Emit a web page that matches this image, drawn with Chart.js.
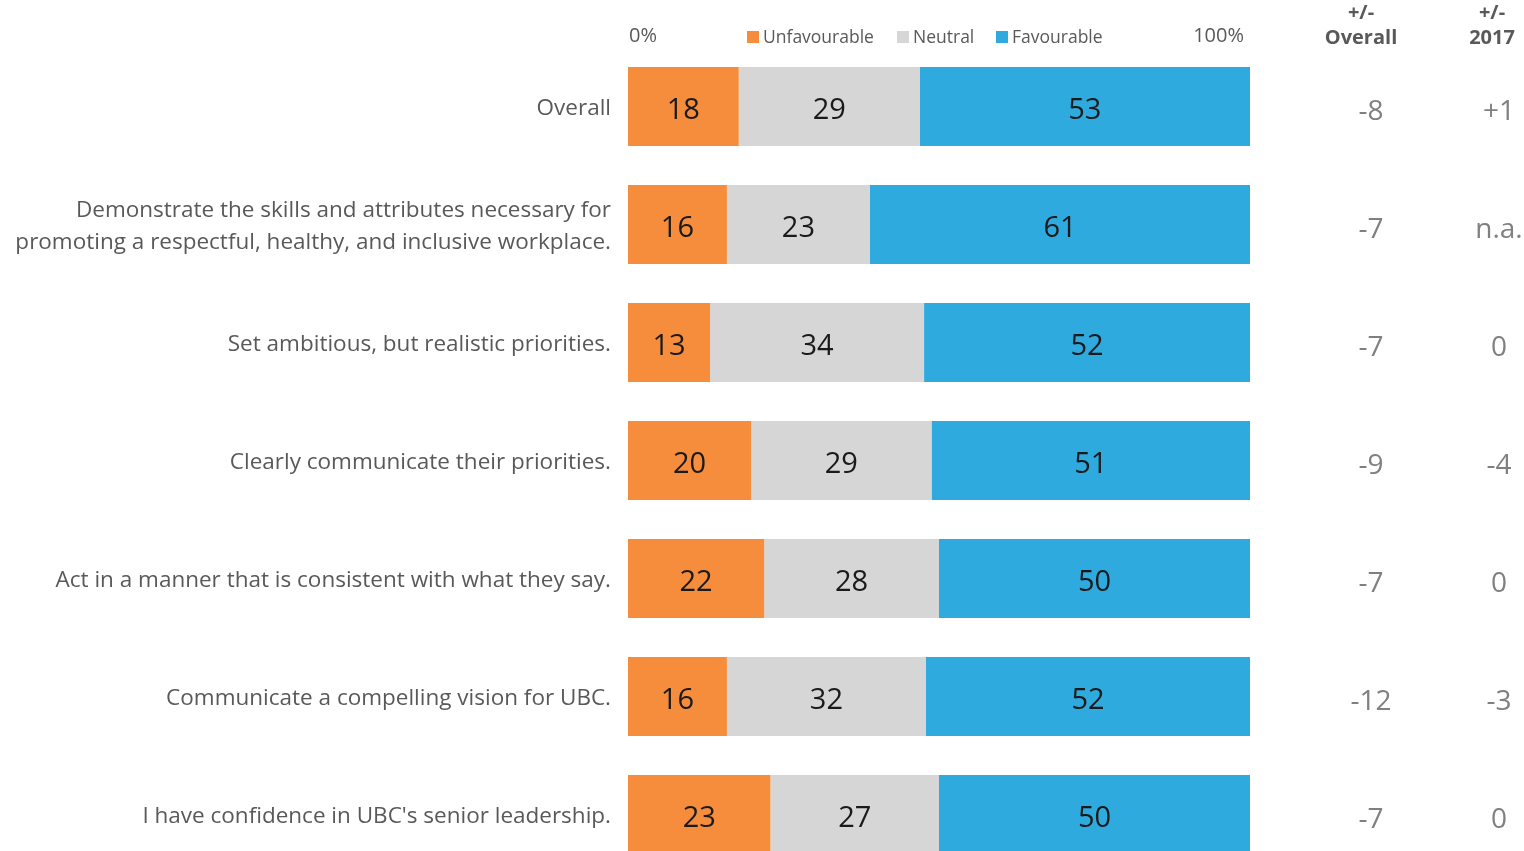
<!DOCTYPE html>
<html>
<head>
<meta charset="utf-8">
<script src="https://cdn.jsdelivr.net/npm/chart.js@4.4.1/dist/chart.umd.min.js"></script>
<style>
  html, body { margin: 0; padding: 0; background: #fff; overflow: hidden; width: 1524px; height: 851px; }
  #c { position: absolute; left: 0; top: 0; }
</style>
</head>
<body>
<canvas id="c" width="1524" height="874" style="width:1524px;height:874px"></canvas>
<script>
const categories = [
  "Overall",
  ["Demonstrate the skills and attributes necessary for", "promoting a respectful, healthy, and inclusive workplace."],
  "Set ambitious, but realistic priorities.",
  "Clearly communicate their priorities.",
  "Act in a manner that is consistent with what they say.",
  "Communicate a compelling vision for UBC.",
  "I have confidence in UBC's senior leadership."
];
const unfavourable = [17.8, 15.9, 13.2, 19.8, 21.9, 15.9, 22.9];
const neutral      = [29.1, 23.0, 34.4, 29.0, 28.1, 32.0, 27.1];
const favourable   = [53.1, 61.1, 52.4, 51.2, 50.0, 52.1, 50.0];
const diffOverall  = ["-8", "-7", "-7", "-9", "-7", "-12", "-7"];
const diff2017     = ["+1", "n.a.", "0", "-4", "0", "-3", "0"];
const axisLabels   = ["0%", "100%"];
const columnHeads  = [["+/-", "Overall"], ["+/-", "2017"]];

const FONT = "'Open Sans', 'Noto Sans', sans-serif";
const TEXT_GRAY = '#595959';

const overlay = {
  id: 'overlay',
  afterDatasetsDraw(chart) {
    const ctx = chart.ctx;
    const ys = chart.scales.y;
    const xs = chart.scales.x;
    ctx.save();
    // data labels
    ctx.fillStyle = '#1a1a1a';
    ctx.font = "29px " + FONT;
    ctx.textAlign = 'center';
    ctx.textBaseline = 'middle';
    chart.data.datasets.forEach((ds, di) => {
      const meta = chart.getDatasetMeta(di);
      meta.data.forEach((bar, i) => {
        const cx = (bar.x + bar.base) / 2;
        ctx.fillText(String(Math.round(ds.data[i])), cx, bar.y + 4);
      });
    });
    // right columns
    ctx.fillStyle = '#808080';
    ctx.font = "28px " + FONT;
    categories.forEach((c, i) => {
      const y = ys.getPixelForValue(i) + 6;
      ctx.fillText(diffOverall[i], 1371, y);
      ctx.fillText(diff2017[i], 1499, y);
    });
    // column heads
    ctx.fillStyle = TEXT_GRAY;
    ctx.font = "bold 20px " + FONT;
    ctx.fillText(columnHeads[0][0], 1361, 13);
    ctx.fillText(columnHeads[0][1], 1361, 38);
    ctx.fillText(columnHeads[1][0], 1492, 13);
    ctx.fillText(columnHeads[1][1], 1492, 38);
    // axis end labels
    ctx.font = "20px " + FONT;
    ctx.textAlign = 'left';
    ctx.fillText(axisLabels[0], xs.getPixelForValue(0) + 1, 36);
    ctx.textAlign = 'right';
    ctx.fillText(axisLabels[1], xs.getPixelForValue(100) - 6, 36);
    // legend
    const legX = [747, 897, 996];
    ctx.font = "17.5px " + FONT;
    ctx.textAlign = 'left';
    chart.data.datasets.forEach((ds, di) => {
      ctx.fillStyle = ds.backgroundColor;
      ctx.fillRect(legX[di], 31, 12, 12);
      ctx.fillStyle = TEXT_GRAY;
      ctx.fillText(ds.label, legX[di] + 16, 38);
    });
    ctx.restore();
  }
};

new Chart(document.getElementById('c'), {
  type: 'bar',
  data: {
    labels: categories,
    datasets: [
      { label: 'Unfavourable', data: unfavourable, backgroundColor: '#F58D3C' },
      { label: 'Neutral', data: neutral, backgroundColor: '#D6D6D6' },
      { label: 'Favourable', data: favourable, backgroundColor: '#2EAADF' }
    ]
  },
  options: {
    indexAxis: 'y',
    responsive: false,
    animation: false,
    layout: { padding: { top: 47.5, right: 274, left: 0, bottom: 0.5 } },
    datasets: { bar: { categoryPercentage: 1, barPercentage: 0.67, borderWidth: 0 } },
    plugins: { legend: { display: false }, tooltip: { enabled: false } },
    scales: {
      x: { stacked: true, min: 0, max: 100, display: false },
      y: {
        stacked: true,
        grid: { display: false },
        border: { display: false },
        ticks: { color: TEXT_GRAY, font: { family: FONT, size: 22.5, lineHeight: 1.42 }, padding: 9, labelOffset: 2 },
        afterFit(scale) { scale.width = 628; scale.paddingTop = 0; scale.paddingBottom = 0; }
      }
    }
  },
  plugins: [overlay]
});
</script>
</body>
</html>
